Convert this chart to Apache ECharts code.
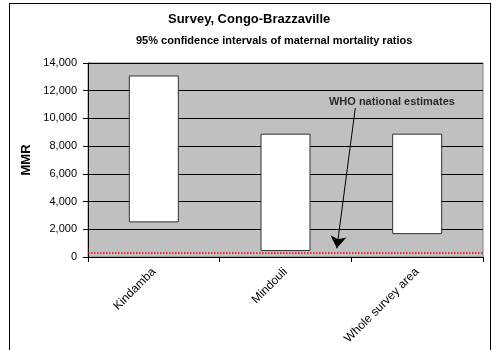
<!DOCTYPE html>
<html>
<head>
<meta charset="utf-8">
<script src="https://cdn.jsdelivr.net/npm/echarts@6/dist/echarts.min.js"></script>
<style>
  html, body { margin: 0; padding: 0; background: #fff; }
  #frame { position: absolute; left: 9px; top: 3px; width: 480px; height: 360px; border: 1px solid #000; }
  #main { position: absolute; left: 0; top: 0; width: 492px; height: 350px; }
</style>
</head>
<body>
<div id="frame"></div>
<div id="main"></div>
<script>
// categories and confidence interval bounds
const categories = ['Kindamba', 'Mindouli', 'Whole survey area'];
const lowerBound = [2500, 430, 1650];
const upperBound = [13100, 8900, 8900];
const whoEstimate = 330;

// annotation arrow, in data units (x: 0..3 across the categories)
const arrowFrom = [2.03, 10750];
const arrowTo = [1.89, 630];
const arrowLabel = [1.83, 11200];

const yTicks = { min: 0, max: 14000, step: 2000 };

const spans = upperBound.map((u, i) => u - lowerBound[i]);

const chart = echarts.init(document.getElementById('main'));

const option = {
  animation: false,
  title: [
    {
      text: 'Survey, Congo-Brazzaville',
      left: 163, top: 8,
      textStyle: { fontFamily: 'Liberation Sans, Arial', fontSize: 13, fontWeight: 'bold', color: '#000' }
    },
    {
      text: '95% confidence intervals of maternal mortality ratios',
      left: 131, top: 30,
      textStyle: { fontFamily: 'Liberation Sans, Arial', fontSize: 11, fontWeight: 'bold', color: '#000' }
    }
  ],
  grid: {
    left: 88, top: 63, right: 9, bottom: 93,
    show: true,
    backgroundColor: '#c0c0c0',
    borderColor: '#808080',
    borderWidth: 1
  },
  xAxis: [
    {
      type: 'category',
      data: categories,
      axisLine: { lineStyle: { color: '#000', width: 1 } },
      axisTick: { show: true, length: 5, lineStyle: { color: '#000' } },
      axisLabel: {
        rotate: 45, margin: 13, color: '#000',
        fontFamily: 'Liberation Sans, Arial', fontSize: 12
      }
    },
    { type: 'value', min: 0, max: 3, show: false }
  ],
  yAxis: {
    type: 'value',
    min: yTicks.min, max: yTicks.max, interval: yTicks.step,
    name: 'MMR',
    nameLocation: 'middle',
    nameGap: 46,
    nameTextStyle: { fontFamily: 'Liberation Sans, Arial', fontSize: 13, fontWeight: 'bold', color: '#000' },
    axisLine: { show: true, lineStyle: { color: '#000', width: 1 } },
    axisTick: { show: true, length: 5, lineStyle: { color: '#000' } },
    axisLabel: {
      margin: 11, color: '#000',
      fontFamily: 'Liberation Sans, Arial', fontSize: 11,
      formatter: v => v.toLocaleString('en-US')
    },
    splitLine: { show: true, lineStyle: { color: '#000', width: 1 } }
  },
  series: [
    {
      name: 'base',
      type: 'bar',
      stack: 'ci',
      data: lowerBound,
      barWidth: 50,
      itemStyle: { color: 'transparent' },
      silent: true
    },
    {
      name: 'interval',
      type: 'bar',
      stack: 'ci',
      data: spans,
      barWidth: 50,
      itemStyle: { color: '#fff', borderColor: '#333', borderWidth: 1 },
      markLine: {
        silent: true,
        symbol: 'none',
        label: { show: false },
        lineStyle: { color: '#ff0000', type: 'dotted', width: 1.5 },
        data: [{ yAxis: whoEstimate }]
      }
    },
    {
      name: 'note',
      type: 'scatter',
      xAxisIndex: 1,
      data: [arrowLabel],
      symbolSize: 0,
      silent: true,
      label: {
        show: true, position: 'right', distance: 0,
        formatter: 'WHO national estimates',
        fontFamily: 'Liberation Sans, Arial', fontSize: 11, fontWeight: 'bold', color: '#000'
      },
      markLine: {
        silent: true,
        symbol: ['none', 'arrow'],
        symbolSize: 12,
        label: { show: false },
        lineStyle: { color: '#000', type: 'solid', width: 1 },
        data: [[{ coord: arrowFrom }, { coord: arrowTo }]]
      }
    }
  ]
};

chart.setOption(option);
</script>
</body>
</html>
